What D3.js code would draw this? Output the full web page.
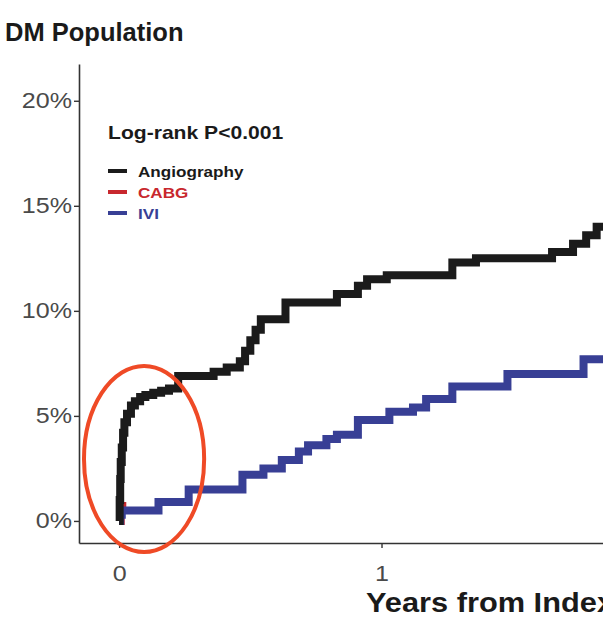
<!DOCTYPE html>
<html>
<head>
<meta charset="utf-8">
<script src="https://cdn.jsdelivr.net/npm/d3@7"></script>
<style>
  body { margin: 0; background: #fff; }
  svg { display: block; font-family: "Liberation Sans", Arial, sans-serif; }
</style>
</head>
<body>
<script>
// cumulative incidence (%) by years from index
var angioTime = [0, 0.002, 0.004, 0.006, 0.010, 0.015, 0.020, 0.030, 0.045, 0.06, 0.08, 0.10, 0.13, 0.16, 0.19,
                 0.225, 0.36, 0.41, 0.46, 0.48, 0.50, 0.52, 0.54, 0.634, 0.83, 0.91, 0.945, 1.02, 1.27, 1.36,
                 1.65, 1.73, 1.78, 1.82, 1.87]
var angioPct  = [0, 1.0, 2.0, 2.8, 3.5, 4.2, 4.7, 5.1, 5.5, 5.7, 5.9, 6.0, 6.1, 6.2, 6.3,
                 6.9, 7.1, 7.3, 7.6, 8.1, 8.6, 9.1, 9.6, 10.4, 10.8, 11.2, 11.5, 11.7, 12.3, 12.5,
                 12.8, 13.2, 13.6, 14.0, 14.4]
var cabgTime = [0, 0.006, 0.012]
var cabgPct  = [0, 0.6, 0.9]
var iviTime = [0, 0.004, 0.01, 0.15, 0.265, 0.47, 0.55, 0.62, 0.685, 0.72, 0.79, 0.83, 0.91,
               1.03, 1.12, 1.17, 1.27, 1.48, 1.77, 1.9]
var iviPct  = [0, 0.3, 0.5, 0.9, 1.5, 2.2, 2.5, 2.9, 3.3, 3.6, 3.9, 4.1, 4.8,
               5.2, 5.4, 5.8, 6.4, 7.0, 7.7, 7.7]

var groups = ["Angiography", "CABG", "IVI"]
var colors = ["#1b1b1b", "#c8282e", "#383f95"]
var yTicks = [0, 5, 10, 15, 20]
var xTicks = [0, 1]

// red circle annotation around the early events (data units)
var circle = { t: 0.095, pct: 2.95, rt: 0.229, rpct: 4.43 }

var width = 603
var height = 624
var stretch = 1.14   // the source image is a bit wide

var x = d3.scaleLinear().domain([-0.153, 2.98]).range([79, 901])
var y = d3.scaleLinear().domain([-1.05, 21.75]).range([543, 64])

var svg = d3.select("body").append("svg")
  .attr("width", width)
  .attr("height", height)

function widen(sel) {
  sel.each(function() {
    var w = this.getComputedTextLength()
    d3.select(this).attr("textLength", w * stretch).attr("lengthAdjust", "spacingAndGlyphs")
  })
}

var series = [
  { name: "CABG", color: colors[1], t: cabgTime, v: cabgPct },
  { name: "IVI", color: colors[2], t: iviTime, v: iviPct },
  { name: "Angiography", color: colors[0], t: angioTime, v: angioPct }
]

var line = d3.line()
  .curve(d3.curveStepAfter)
  .x(function(d) { return x(d[0]) })
  .y(function(d) { return y(d[1]) })

svg.append("g").selectAll("path")
  .data(series)
  .enter().append("path")
  .attr("fill", "none")
  .attr("stroke", function(d) { return d.color })
  .attr("stroke-width", 8)
  .attr("stroke-linejoin", "miter")
  .attr("d", function(d) { return line(d.t.map(function(t, i) { return [t, d.v[i]] })) })

// axes
var yAxis = svg.append("g")
  .attr("transform", "translate(" + x.range()[0] + ",0)")
  .call(d3.axisLeft(y).tickValues(yTicks).tickSize(5).tickSizeOuter(0).tickPadding(2)
    .tickFormat(function(d) { return d + "%" }))
var xAxis = svg.append("g")
  .attr("transform", "translate(0," + y.range()[0] + ")")
  .call(d3.axisBottom(x).tickValues(xTicks).tickSize(5).tickSizeOuter(0).tickPadding(17)
    .tickFormat(d3.format("d")))

svg.selectAll(".domain").attr("stroke", "#333").attr("stroke-width", 1.6)
svg.selectAll(".tick line").attr("stroke", "#333").attr("stroke-width", 1.4)
svg.selectAll(".tick text")
  .attr("fill", "#4a4a4a")
  .attr("font-size", 22)
  .attr("font-family", "Liberation Sans, Arial, sans-serif")
  .call(widen)

// annotation ellipse
svg.append("ellipse")
  .attr("cx", x(circle.t))
  .attr("cy", y(circle.pct))
  .attr("rx", x(circle.rt) - x(0))
  .attr("ry", y(0) - y(circle.rpct))
  .attr("fill", "none")
  .attr("stroke", "#ef4a26")
  .attr("stroke-width", 4)

// titles
svg.append("text")
  .attr("x", 5).attr("y", 41)
  .attr("font-size", 25.5).attr("font-weight", "bold").attr("fill", "#1a1a1a")
  .text("DM Population")

var xTitle = svg.append("text")
  .attr("x", (x.range()[0] + x.range()[1]) / 2).attr("y", 612)
  .attr("text-anchor", "middle")
  .attr("font-size", 27).attr("font-weight", "bold").attr("fill", "#1a1a1a")
  .text("Years from Index")
  .call(widen)

// legend
var legend = svg.append("g").attr("transform", "translate(108,0)")
legend.append("text")
  .attr("x", 0).attr("y", 139)
  .attr("font-size", 18.5).attr("font-weight", "bold").attr("fill", "#1a1a1a")
  .text("Log-rank P<0.001")
  .call(widen)

var items = legend.selectAll(".item")
  .data(groups)
  .enter().append("g")
  .attr("class", "item")
  .attr("transform", function(d, i) { return "translate(0," + (171 + i * 21) + ")" })
items.append("line")
  .attr("x1", 0).attr("x2", 19)
  .attr("stroke", function(d, i) { return colors[i] })
  .attr("stroke-width", 4)
items.append("text")
  .attr("x", 30).attr("y", 5.5)
  .attr("font-size", 15).attr("font-weight", "bold")
  .attr("fill", function(d, i) { return i == 0 ? "#1a1a1a" : colors[i] })
  .text(function(d) { return d })
  .call(widen)
</script>
</body>
</html>
